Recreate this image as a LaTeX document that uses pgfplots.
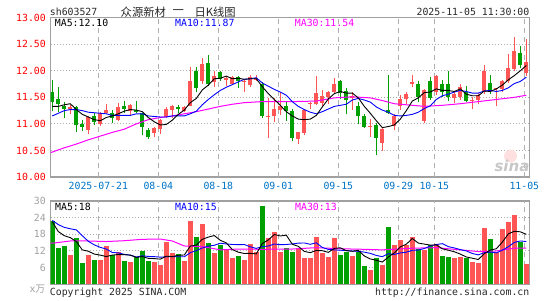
\documentclass[border=0pt]{standalone}
\usepackage{pgfplots}
\usepackage{pgfplotstable}
\pgfplotsset{compat=1.18}
\usepackage{fontspec}
\setmainfont{DejaVu Sans Mono}
\setmonofont{DejaVu Sans Mono}
\newfontfamily\cjk{Noto Sans CJK SC}
\newfontfamily\sinafont{DejaVu Sans}
\definecolor{cred}{RGB}{255,85,85}
\definecolor{cgreen}{RGB}{0,160,0}
\definecolor{cblue}{RGB}{0,0,255}
\definecolor{cmag}{RGB}{255,0,255}
\definecolor{cgrid}{RGB}{175,175,175}
\definecolor{cborder}{RGB}{160,160,160}
\definecolor{cdate}{RGB}{0,115,200}
\definecolor{cvol}{RGB}{160,160,160}
\definecolor{ctext}{RGB}{40,40,40}

\pgfplotstableread{
i o h l c v ma5 ma10 vma5 vma10
0 11.61 11.83 11.25 11.42 22.7 11.33 11.15 22.5 23.0
1 11.47 11.69 11.23 11.38 13.2 11.33 11.20 19.0 21.5
2 11.33 11.42 11.11 11.28 13.8 11.36 11.25 17.5 20.5
3 11.28 11.36 11.18 11.31 10.6 11.38 11.27 16.8 20.0
4 11.31 11.33 10.84 10.97 16.7 11.27 11.27 15.4 19.6
5 11.00 11.07 10.87 10.95 7.8 11.18 11.25 12.4 17.5
6 10.89 11.15 10.81 11.13 10.6 11.13 11.22 11.9 15.5
7 11.15 11.20 10.98 11.04 8.8 11.08 11.21 10.9 14.2
8 11.00 11.23 10.96 11.20 8.8 11.06 11.20 10.5 13.3
9 11.21 11.38 11.19 11.26 13.8 11.12 11.19 10.0 12.7
10 11.20 11.26 11.02 11.12 10.6 11.15 11.16 10.52 11.47
11 11.07 11.40 11.06 11.31 11.6 11.19 11.16 10.72 11.31
12 11.33 11.44 11.20 11.29 8.5 11.24 11.16 10.66 10.78
13 11.24 11.38 11.17 11.36 8.0 11.27 11.16 10.50 10.52
14 11.26 11.44 11.20 11.23 9.8 11.26 11.19 9.70 9.83
15 11.20 11.21 10.79 10.94 12.0 11.23 11.19 9.98 10.25
16 10.89 10.92 10.72 10.76 8.5 11.12 11.15 9.36 10.04
17 10.82 10.94 10.75 10.92 8.0 11.04 11.14 9.26 9.96
18 10.90 11.10 10.81 11.07 7.0 10.98 11.13 9.06 9.78
19 11.13 11.31 11.11 11.28 15.1 10.99 11.13 10.12 9.91
20 11.26 11.36 11.11 11.34 11.3 11.07 11.15 9.98 9.98
21 11.31 11.36 11.20 11.29 10.9 11.18 11.15 10.46 9.91
22 11.25 11.34 11.23 11.31 8.5 11.26 11.15 10.56 9.91
23 11.34 12.08 11.33 11.80 22.9 11.40 11.19 13.74 11.40
24 12.00 12.08 11.60 11.67 17.0 11.48 11.24 14.12 12.12
25 11.80 12.24 11.75 12.12 21.7 11.64 11.36 16.20 13.09
26 12.14 12.30 11.72 11.75 14.9 11.73 11.46 17.00 13.73
27 11.78 11.99 11.70 11.90 11.3 11.85 11.55 17.56 14.06
28 11.97 12.00 11.81 11.85 14.3 11.86 11.63 15.84 14.79
29 11.83 11.90 11.72 11.86 12.4 11.90 11.69 14.92 14.52
30 11.75 11.90 11.73 11.88 9.6 11.85 11.74 12.50 14.35
31 11.89 11.90 11.68 11.80 10.3 11.86 11.79 11.58 14.29
32 11.78 11.83 11.61 11.81 8.9 11.84 11.84 11.10 14.33
33 11.73 11.92 11.70 11.89 14.5 11.85 11.85 11.14 13.49
34 11.83 11.92 11.81 11.86 11.5 11.85 11.87 10.96 12.94
35 11.76 11.78 11.12 11.14 28.2 11.70 11.77 14.68 13.59
36 11.13 11.48 10.73 11.14 16.8 11.57 11.71 15.98 13.78
37 11.14 11.48 11.03 11.29 18.7 11.46 11.65 17.94 14.52
38 11.26 11.61 11.17 11.34 11.8 11.35 11.60 17.40 14.27
39 11.33 11.42 11.06 11.24 13.0 11.23 11.54 17.70 14.33
40 11.24 11.28 10.68 10.73 11.8 11.15 11.42 14.42 14.55
41 10.72 10.85 10.63 10.84 13.0 11.09 11.33 13.66 14.82
42 10.82 11.29 10.80 11.26 9.6 11.08 11.27 11.84 14.89
43 11.37 11.42 11.29 11.38 9.6 11.09 11.22 11.40 14.40
44 11.37 11.90 11.36 11.58 16.9 11.16 11.19 12.18 14.94
45 11.39 11.64 11.33 11.53 11.4 11.32 11.23 12.10 13.26
46 11.50 11.62 11.37 11.60 10.0 11.47 11.28 11.50 12.58
47 11.60 11.87 11.58 11.76 16.8 11.57 11.33 12.94 12.39
48 11.81 11.83 11.47 11.58 10.6 11.61 11.35 13.14 12.27
49 11.62 11.68 11.18 11.45 11.8 11.58 11.37 12.12 12.15
50 11.48 11.60 11.26 11.53 10.2 11.58 11.45 11.88 11.99
51 11.33 11.41 10.99 11.14 11.8 11.49 11.48 12.24 11.87
52 11.14 11.18 10.92 10.95 6.7 11.33 11.45 10.22 11.58
53 10.94 11.10 10.76 10.95 5.2 11.20 11.41 9.14 11.14
54 10.97 11.01 10.42 10.73 9.4 11.06 11.32 8.66 10.39
55 10.64 10.95 10.49 10.90 7.0 10.93 11.26 8.02 9.95
56 11.26 11.93 11.18 11.20 20.8 10.95 11.22 9.82 11.03
57 10.96 11.18 10.88 11.14 14.2 10.98 11.16 11.32 10.77
58 11.33 11.54 11.26 11.47 16.0 11.09 11.15 13.48 11.31
59 11.47 11.61 11.37 11.56 14.2 11.25 11.16 14.44 11.55
60 11.76 11.92 11.70 11.78 17.2 11.43 11.18 16.48 12.25
61 11.76 11.80 11.42 11.51 12.6 11.49 11.22 14.84 12.33
62 11.06 11.66 11.01 11.64 12.4 11.59 11.29 14.48 12.90
63 11.81 11.89 11.45 11.49 14.2 11.60 11.34 14.12 13.80
64 11.60 11.93 11.55 11.90 14.6 11.66 11.46 14.20 14.32
65 11.75 11.83 11.50 11.61 10.2 11.63 11.53 12.80 14.64
66 11.75 11.99 11.43 11.51 10.0 11.63 11.56 12.28 13.56
67 11.49 11.61 11.39 11.56 9.6 11.61 11.60 11.72 13.10
68 11.51 11.76 11.45 11.70 10.0 11.66 11.63 10.88 12.50
69 11.60 11.71 11.41 11.43 9.4 11.56 11.61 9.84 12.02
70 11.43 11.50 11.29 11.44 8.0 11.53 11.58 9.40 11.10
71 11.45 11.58 11.37 11.54 7.6 11.53 11.58 8.92 10.60
72 11.60 12.10 11.57 11.99 20.3 11.62 11.62 11.06 11.39
73 11.77 11.93 11.56 11.64 16.3 11.61 11.63 12.32 11.60
74 11.66 11.68 11.33 11.67 11.8 11.66 11.61 12.80 11.32
75 11.66 11.83 11.60 11.80 19.9 11.73 11.63 15.18 12.29
76 11.81 12.31 11.77 12.05 22.5 11.83 11.68 18.16 13.54
77 12.04 12.63 11.99 12.37 25.0 11.91 11.76 19.10 15.08
78 12.34 12.47 12.05 12.11 15.3 12.00 11.80 18.90 15.61
79 11.95 12.60 11.91 12.17 7.3 12.10 11.88 18.00 15.40
}\kdata

\pgfplotsset{
  kaxis/.style={
    scale only axis, anchor=south west, width=479pt,
    xmin=-0.3, xmax=79.53,
    axis line style={draw=cborder, line width=1.2pt},
    major tick length=0pt,
    clip=true,
    tick label style={font=\fontsize{9.85}{11}\selectfont},
    filter discard warning=false,
  },
  redsel/.style={restrict expr to domain={\thisrow{c}-\thisrow{o}}{-0.00001:10}},
  greensel/.style={restrict expr to domain={\thisrow{c}-\thisrow{o}}{-10:-0.00002}},
  wick/.style={#1, line width=1pt, mark=none, quiver={u=0, v=\thisrow{h}-\thisrow{l}}},
  body/.style={#1, line width=4.3pt, mark=none, quiver={u=0, v={max(abs(\thisrow{c}-\thisrow{o}),0.019)}}},
}

\begin{document}
\fontsize{9.85}{11}\selectfont
\begin{tikzpicture}[x=1pt,y=1pt]
\useasboundingbox (0,0) rectangle (545,300);

% header
\node[anchor=west, inner sep=0pt, text=ctext] at (49.7,288) {sh603527};
\node[anchor=west, inner sep=0pt, text=ctext] at (120.5,288) {\cjk\fontsize{11.3}{12}\selectfont 众源新材};
\node[anchor=west, inner sep=0pt, text=ctext] at (172.5,288) {\cjk\fontsize{11.3}{12}\selectfont 一};
\node[anchor=west, inner sep=0pt, text=ctext] at (194.3,288) {\cjk\fontsize{11.3}{12}\selectfont 日K线图};
\node[anchor=east, inner sep=0pt, text=ctext] at (529.5,288) {2025-11-05 11:30:00};

% price panel
\begin{axis}[kaxis, at={(50.5pt,123pt)}, height=159.3pt, ymin=10, ymax=13,
  ytick={10,10.5,11,11.5,12,12.5,13},
  yticklabels={10.00,10.50,11.00,11.50,12.00,12.50,13.00},
  yticklabel style={text=red, anchor=east, inner sep=0pt, xshift=-4.5pt},
  xtick={7.67,17.67,27.67,37.67,47.67,57.67,63.67,78.67},
  xticklabels={2025-07-21,08-04,08-18,09-01,09-15,09-29,10-15,11-05},
  xticklabel style={text=cdate, anchor=north, inner sep=0pt, yshift=-5pt},
]
\pgfplotsinvokeforeach{10.5,11,11.5,12,12.5}{
  \draw[cgrid, line width=1pt, dash pattern=on 1.2pt off 1.8pt] (axis cs:-0.3,#1) -- (axis cs:79.53,#1);
}
\pgfplotsinvokeforeach{7.67,17.67,27.67,37.67,47.67,57.67,63.67,78.67}{
  \draw[cgrid, line width=1.1pt, dash pattern=on 5pt off 4pt] (axis cs:#1,10) -- (axis cs:#1,13);
}
\addplot[redsel, wick=cred] table[x=i, y=l]{\kdata};
\addplot[greensel, wick=cgreen] table[x=i, y=l]{\kdata};
\addplot[redsel, body=cred] table[x=i, y expr={min(\thisrow{o},\thisrow{c})}]{\kdata};
\addplot[greensel, body=cgreen] table[x=i, y expr={min(\thisrow{o},\thisrow{c})}]{\kdata};
\addplot[cmag, line width=1pt] coordinates {(-0.3,10.46) (0,10.47) (2,10.55) (4,10.62) (6,10.70) (8,10.77) (10,10.84) (12,10.90) (14,11.00) (16,11.08) (18,11.12) (20,11.15) (22,11.19) (24,11.23) (26,11.28) (28,11.33) (30,11.37) (32,11.40) (35,11.42) (40,11.42) (44,11.43) (47,11.49) (50,11.51) (53,11.49) (55,11.44) (57,11.38) (60,11.35) (62,11.33) (65,11.35) (68,11.38) (71,11.42) (74,11.46) (77,11.50) (79,11.54)};
\addplot[cblue, line width=0.9pt] table[x=i, y=ma10]{\kdata};
\addplot[black, line width=0.9pt] table[x=i, y=ma5]{\kdata};
\end{axis}

\node[anchor=west, inner sep=0pt, text=black] at (54.7,276.7) {MA5:12.10};
\node[anchor=west, inner sep=0pt, text=cblue] at (175,276.7) {MA10:11.87};
\node[anchor=west, inner sep=0pt, text=cmag] at (294.7,276.7) {MA30:11.54};

% watermark
\fill[red!12] (510.5,144) circle (6.5);
\node[inner sep=0pt, text=black!22] at (512,134) {\sinafont\bfseries\itshape\fontsize{15}{15}\selectfont sina};

% volume panel
\begin{axis}[kaxis, at={(50.5pt,15.7pt)}, height=83.3pt, ymin=0, ymax=30,
  ytick={6,12,18,24,30}, yticklabels={6,12,18,24,30},
  yticklabel style={text=cvol, anchor=east, inner sep=0pt, xshift=-4.5pt},
  xtick=\empty,
]
\pgfplotsinvokeforeach{6,12,18,24}{
  \draw[cgrid, line width=1pt, dash pattern=on 1.2pt off 1.8pt] (axis cs:-0.3,#1) -- (axis cs:79.53,#1);
}
\pgfplotsinvokeforeach{7.67,17.67,27.67,37.67,47.67,57.67,63.67,78.67}{
  \draw[cgrid, line width=1.1pt, dash pattern=on 5pt off 4pt] (axis cs:#1,0) -- (axis cs:#1,30);
}
\addplot[ycomb, cred, line width=4.6pt, mark=none, redsel] table[x=i, y=v]{\kdata};
\addplot[ycomb, cgreen, line width=4.6pt, mark=none, greensel] table[x=i, y=v]{\kdata};
\addplot[cmag, line width=1pt] coordinates {(-0.3,14.8) (0,14.8) (3,15.6) (6,15.6) (9,15.4) (12,15.7) (15,16.2) (18,16.3) (20,15.6) (22,13.8) (25,13.6) (28,12.4) (31,12.7) (35,12.6) (40,12.7) (44,13.2) (48,12.8) (52,12.6) (55,12.4) (60,13.0) (64,13.2) (68,12.4) (71,11.8) (74,12.0) (77,13.0) (79,13.0)};
\addplot[cblue, line width=0.9pt] table[x=i, y=vma10]{\kdata};
\addplot[black, line width=0.9pt] table[x=i, y=vma5]{\kdata};
\end{axis}

\node[anchor=west, inner sep=0pt, text=black] at (55,93.3) {MA5:18};
\node[anchor=west, inner sep=0pt, text=cblue] at (175,93.3) {MA10:15};
\node[anchor=west, inner sep=0pt, text=cmag] at (295,93.3) {MA30:13};
\node[anchor=east, inner sep=0pt, text=cvol] at (45.5,11) {x\cjk 万};

% footer
\node[anchor=west, inner sep=0pt, text=ctext] at (49.7,7) {Copyright 2025 SINA.COM};
\node[anchor=east, inner sep=0pt, text=ctext] at (529.5,7) {http://finance.sina.com.cn};
\end{tikzpicture}
\end{document}
